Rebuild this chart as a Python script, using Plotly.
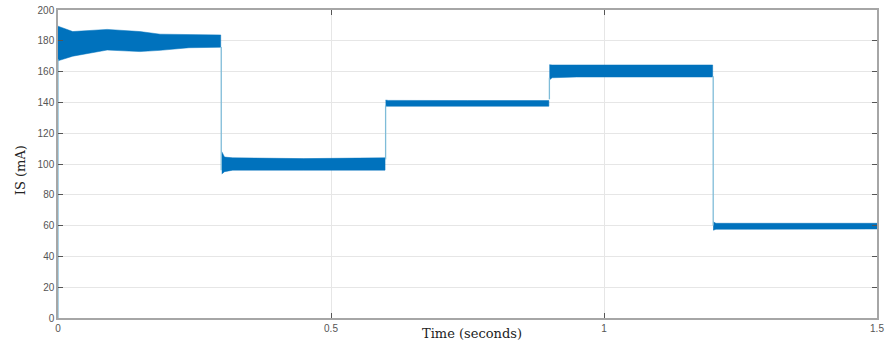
import plotly.graph_objects as go

# Upper / lower envelopes of the oscillating current band (mA)
seg1_t = [0.0, 0.027, 0.09, 0.15, 0.187, 0.24, 0.298]
seg1_up = [189.5, 186.0, 187.4, 186.0, 184.3, 184.0, 183.8]
seg1_lo = [167.0, 170.0, 174.0, 173.0, 173.8, 175.5, 175.8]

seg2_t = [0.300, 0.305, 0.32, 0.45, 0.599]
seg2_up = [108.0, 104.5, 104.0, 103.5, 104.0]
seg2_lo = [93.5, 95.0, 96.0, 96.0, 96.0]

seg3_t = [0.600, 0.605, 0.75, 0.899]
seg3_up = [141.5, 141.3, 141.2, 141.2]
seg3_lo = [137.5, 137.5, 137.5, 137.5]

seg4_t = [0.900, 0.905, 0.95, 1.05, 1.199]
seg4_up = [164.5, 164.3, 164.3, 164.3, 164.3]
seg4_lo = [154.5, 156.0, 156.5, 156.5, 156.5]

seg5_t = [1.200, 1.205, 1.23, 1.35, 1.5]
seg5_up = [62.5, 61.5, 61.5, 61.5, 61.5]
seg5_lo = [57.0, 57.6, 57.8, 57.8, 57.8]

# Step transitions (thin lines)
step_t = [0.0, 0.0, None, 0.299, 0.299, None, 0.6, 0.6, None, 0.9, 0.9, None, 1.2, 1.2]
step_y = [0.0, 168.0, None, 176.0, 96.0, None, 103.0, 138.0, None, 142.0, 156.0, None, 157.0, 60.0]

x_ticks = [0, 0.5, 1, 1.5]
x_tick_labels = ["0", "0.5", "1", "1.5"]
y_ticks = [0, 20, 40, 60, 80, 100, 120, 140, 160, 180, 200]

segs = [(seg1_t, seg1_up, seg1_lo), (seg2_t, seg2_up, seg2_lo), (seg3_t, seg3_up, seg3_lo),
        (seg4_t, seg4_up, seg4_lo), (seg5_t, seg5_up, seg5_lo)]

BLUE = "#0072BD"
fig = go.Figure()

for t, up, lo in segs:
    xs = list(t) + list(reversed(t))
    ys = list(up) + list(reversed(lo))
    fig.add_trace(go.Scatter(x=xs, y=ys, mode="lines", fill="toself",
                             fillcolor=BLUE, line=dict(color=BLUE, width=0.5),
                             hoverinfo="skip", showlegend=False))

fig.add_trace(go.Scatter(x=step_t, y=step_y, mode="lines",
                         line=dict(color="#7fbcd8", width=1.3),
                         connectgaps=False, hoverinfo="skip", showlegend=False))

axis_common = dict(showgrid=True, gridcolor="#e6e6e6", gridwidth=1,
                   showline=True, linecolor="#a6a6a6", linewidth=1.5, mirror="ticks",
                   ticks="inside", ticklen=5, tickcolor="#555555", tickwidth=1,
                   zeroline=False, automargin=False,
                   tickfont=dict(family="Liberation Sans, Arial", size=10, color="#555555"))

fig.update_xaxes(range=[0, 1.5], tickvals=x_ticks, ticktext=x_tick_labels, **axis_common)
fig.update_yaxes(range=[0, 200], tickvals=y_ticks, **axis_common)

fig.update_layout(
    width=886, height=345,
    margin=dict(l=58, r=9, t=10, b=27, autoexpand=False),
    plot_bgcolor="white", paper_bgcolor="white",
    annotations=[
        dict(text="Time (seconds)", xref="paper", yref="paper", x=0.505, y=0,
             yshift=-15, xanchor="center", yanchor="middle", showarrow=False,
             font=dict(family="DejaVu Serif", size=13, color="#222222")),
        dict(text="IS (mA)", xref="paper", yref="paper", x=0, xshift=-38, y=0.48,
             xanchor="center", yanchor="middle", textangle=-90, showarrow=False,
             font=dict(family="DejaVu Serif", size=13, color="#222222")),
    ],
)

fig.write_html("out.html")
